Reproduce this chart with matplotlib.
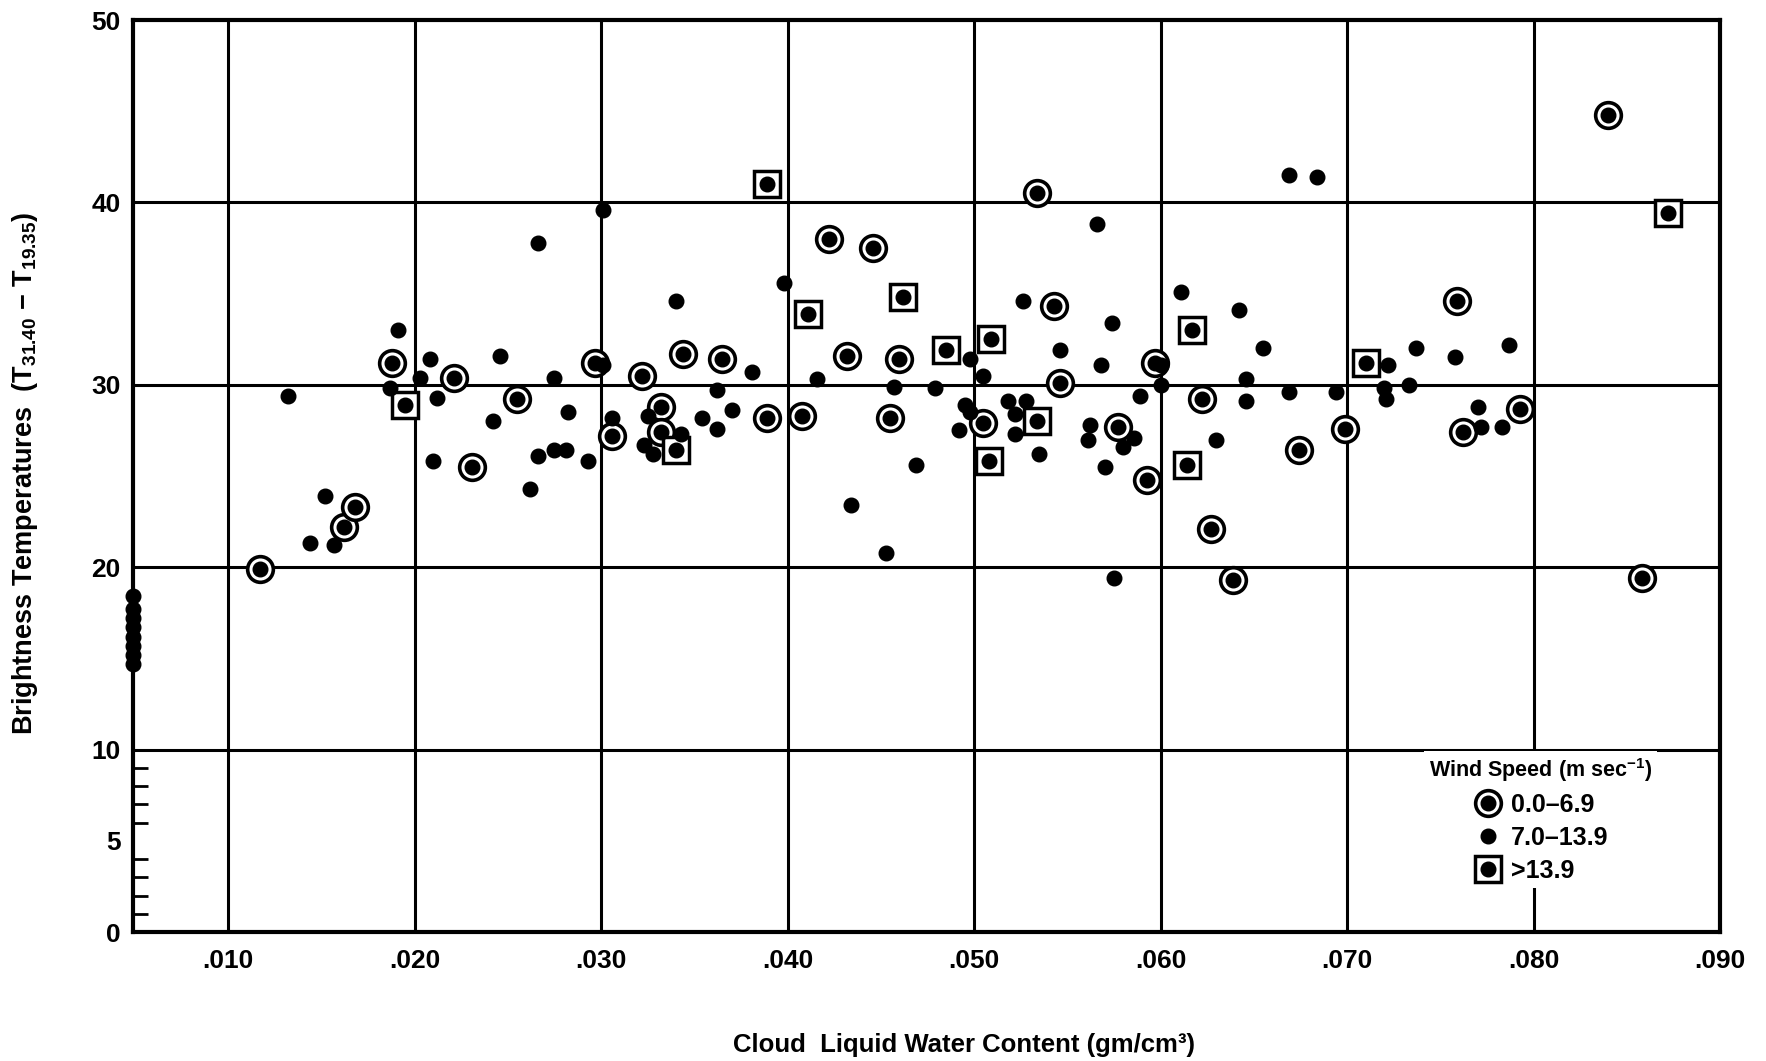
import matplotlib
matplotlib.use("Agg")
import matplotlib.pyplot as plt
from matplotlib.lines import Line2D
from matplotlib.legend_handler import HandlerTuple

plt.rcParams['font.family'] = ['Liberation Sans', 'DejaVu Sans']
plt.rcParams['font.weight'] = 'bold'
plt.rcParams['mathtext.fontset'] = 'custom'
plt.rcParams['mathtext.rm'] = 'Liberation Sans:bold'
plt.rcParams['mathtext.default'] = 'rm'

# wind speed 0.0-6.9 (ringed dots)
calm_x = [0.0117, 0.0162, 0.0168, 0.0188, 0.0221, 0.0231, 0.0255, 0.0297, 0.0306,
          0.0322, 0.0332, 0.0332, 0.0344, 0.0365, 0.0389, 0.0408, 0.0422, 0.0446,
          0.0432, 0.0455, 0.0460, 0.0505, 0.0534, 0.0543, 0.0546, 0.0577, 0.0593,
          0.0597, 0.0622, 0.0627, 0.0639, 0.0674, 0.0699, 0.0759, 0.0762, 0.0793,
          0.0840, 0.0858]
calm_y = [19.9, 22.2, 23.3, 31.2, 30.4, 25.5, 29.2, 31.2, 27.2,
          30.5, 28.8, 27.4, 31.7, 31.4, 28.2, 28.3, 38.0, 37.5,
          31.6, 28.2, 31.4, 27.9, 40.5, 34.3, 30.1, 27.7, 24.8,
          31.2, 29.2, 22.1, 19.3, 26.4, 27.6, 34.6, 27.4, 28.7,
          44.8, 19.4]

# wind speed 7.0-13.9 (plain dots)
mid_x = [0.0049, 0.0049, 0.0049, 0.0049, 0.0049, 0.0049, 0.0049, 0.0049,
         0.0132, 0.0152, 0.0144, 0.0157, 0.0191, 0.0187, 0.0208, 0.0203, 0.0212,
         0.0210, 0.0246, 0.0242, 0.0262, 0.0266, 0.0266, 0.0275, 0.0275, 0.0281,
         0.0282, 0.0293, 0.0301, 0.0301, 0.0306, 0.0325, 0.0323, 0.0328, 0.0343,
         0.0340, 0.0354, 0.0362, 0.0362, 0.0370, 0.0381, 0.0398, 0.0416, 0.0434,
         0.0453, 0.0457, 0.0469, 0.0479, 0.0492, 0.0495, 0.0498, 0.0498, 0.0505,
         0.0518, 0.0528, 0.0522, 0.0522, 0.0526, 0.0535, 0.0546, 0.0562, 0.0561,
         0.0566, 0.0574, 0.0568, 0.0570, 0.0575, 0.0580, 0.0586, 0.0589, 0.0600,
         0.0600, 0.0611, 0.0630, 0.0642, 0.0646, 0.0646, 0.0655, 0.0669, 0.0669,
         0.0684, 0.0694, 0.0720, 0.0721, 0.0722, 0.0733, 0.0737, 0.0758, 0.0770,
         0.0772, 0.0783, 0.0787]
mid_y = [14.7, 15.2, 15.7, 16.2, 16.7, 17.2, 17.7, 18.4,
         29.4, 23.9, 21.3, 21.2, 33.0, 29.8, 31.4, 30.4, 29.3,
         25.8, 31.6, 28.0, 24.3, 26.1, 37.8, 30.4, 26.4, 26.4,
         28.5, 25.8, 39.6, 31.1, 28.2, 28.3, 26.7, 26.2, 27.3,
         34.6, 28.2, 27.6, 29.7, 28.6, 30.7, 35.6, 30.3, 23.4,
         20.8, 29.9, 25.6, 29.8, 27.5, 28.9, 28.5, 31.4, 30.5,
         29.1, 29.1, 28.4, 27.3, 34.6, 26.2, 31.9, 27.8, 27.0,
         38.8, 33.4, 31.1, 25.5, 19.4, 26.6, 27.1, 29.4, 31.1,
         30.0, 35.1, 27.0, 34.1, 30.3, 29.1, 32.0, 29.6, 41.5,
         41.4, 29.6, 29.8, 29.2, 31.1, 30.0, 32.0, 31.5, 28.8,
         27.7, 27.7, 32.2]

# wind speed >13.9 (boxed dots)
high_x = [0.0195, 0.0340, 0.0389, 0.0411, 0.0462, 0.0485, 0.0509, 0.0508,
          0.0534, 0.0617, 0.0614, 0.0710, 0.0872]
high_y = [28.9, 26.4, 41.0, 33.9, 34.8, 31.9, 32.5, 25.8,
          28.0, 33.0, 25.6, 31.2, 39.4]

x_grid = [0.010, 0.020, 0.030, 0.040, 0.050, 0.060, 0.070, 0.080]
y_grid = [10, 20, 30, 40]
x_ticks = [0.010, 0.020, 0.030, 0.040, 0.050, 0.060, 0.070, 0.080, 0.090]
x_labels = ['.010', '.020', '.030', '.040', '.050', '.060', '.070', '.080', '.090']
y_ticks = [0, 5, 10, 20, 30, 40, 50]
y_minor = [1, 2, 3, 4, 5, 6, 7, 8, 9]
legend_labels = ['0.0\u20136.9', '7.0\u201313.9', '>13.9']

fig = plt.figure(figsize=(17.66, 10.61), dpi=100)
ax = fig.add_axes([133/1766, 1-932/1061, (1720-133)/1766, (932-20)/1061])
ax.set_xlim(0.0049, 0.090)
ax.set_ylim(0, 50)

for gx in x_grid:
    ax.axvline(gx, color='black', lw=2.2, zorder=1)
for gy in y_grid:
    ax.axhline(gy, color='black', lw=2.2, zorder=1)

ring = dict(ls='none', marker='o', ms=18.5, mfc='white', mec='black', mew=2.6, zorder=3)
box = dict(ls='none', marker='s', ms=18.5, mfc='white', mec='black', mew=2.5, zorder=3)
dot = dict(ls='none', marker='o', ms=10.5, color='black', zorder=4)

ax.plot(calm_x, calm_y, **ring)
ax.plot(calm_x, calm_y, **dot)
ax.plot(high_x, high_y, **box)
ax.plot(high_x, high_y, **dot)
ax.plot(mid_x, mid_y, clip_on=False, **dot)

for s in ax.spines.values():
    s.set_linewidth(3)

ax.set_xticks(x_ticks)
ax.set_xticklabels(x_labels)
ax.set_yticks(y_ticks)
ax.set_yticks(y_minor, minor=True)
ax.tick_params(axis='x', length=0, pad=12, labelsize=19)
ax.tick_params(axis='y', which='major', length=0, pad=9, labelsize=19)
ax.tick_params(axis='y', which='minor', direction='in', length=11, width=2)

fig.text(964/1766, 1-1045/1061, 'Cloud  Liquid Water Content (gm/cm\u00b3)',
         ha='center', va='center', fontsize=18.5, fontweight='bold')
fig.text(25/1766, 1-473/1061,
         'Brightness Temperatures  (T$_{31.40}$ \u2212 T$_{19.35}$)',
         ha='center', va='center', rotation=90, fontsize=19.5, fontweight='bold')

h_ring = (Line2D([], [], **ring), Line2D([], [], **dot))
h_dot = Line2D([], [], **dot)
h_box = (Line2D([], [], **box), Line2D([], [], **dot))
leg = ax.legend([h_ring, h_dot, h_box], legend_labels,
                handler_map={tuple: HandlerTuple(ndivide=1, pad=0)},
                title='Wind Speed (m sec$^{-1}$)', loc='upper center',
                bbox_to_anchor=(0.887, 0.212), fontsize=18,
                title_fontproperties={'size': 15.5, 'weight': 'bold'},
                frameon=True, facecolor='white', edgecolor='none', framealpha=1,
                fancybox=False, borderpad=0.2, labelspacing=0.36,
                handlelength=1.2, handletextpad=0.35)
leg.set_zorder(6)

fig.savefig('out.png', dpi=100)
